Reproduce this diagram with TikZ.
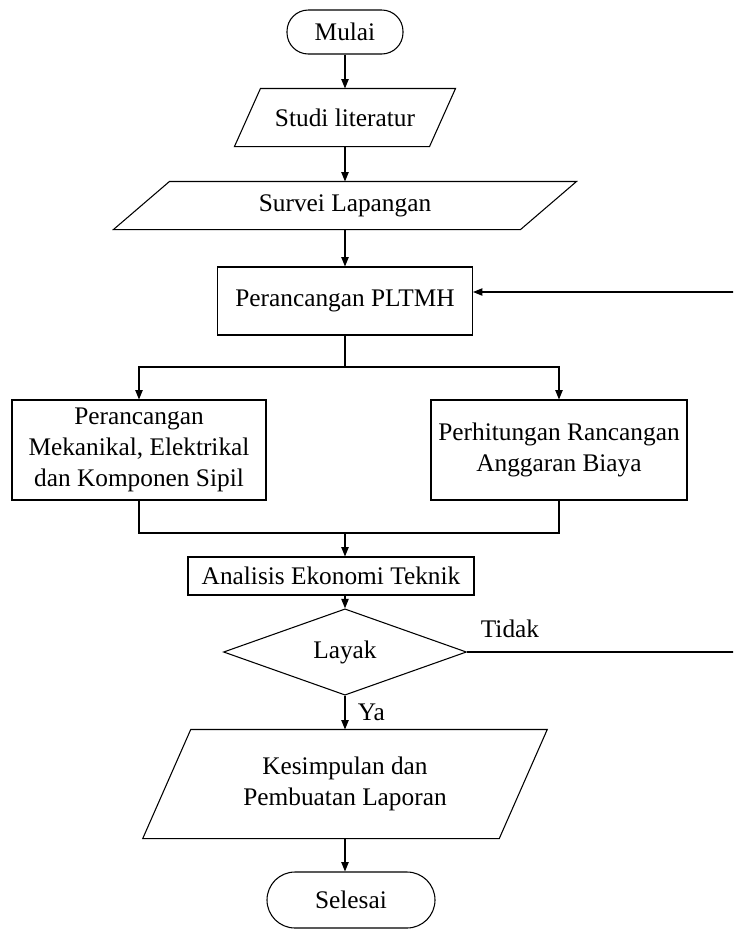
\documentclass[tikz,border=0pt]{standalone}
\usepackage{fontspec}
\setmainfont{Liberation Serif}
\usetikzlibrary{shapes.geometric,arrows.meta}
\newcommand{\ioshape}[2]{%
  \draw ([xshift=#2]#1.north west) -- ([xshift=#2]#1.north east)
    -- ([xshift=-#2]#1.south east) -- ([xshift=-#2]#1.south west) -- cycle;}

\begin{document}
\begin{tikzpicture}[x=0.75pt,y=-0.75pt,line width=0.8pt,
    font=\fontsize{19}{23.25}\selectfont,
    >={Triangle[length=7pt,width=5.5pt]},
    terminal/.style={draw, rounded corners=#1, inner sep=0pt},
    box/.style={draw, rectangle, inner sep=0pt, align=center},
    io/.style={inner sep=0pt, align=center},
    decision/.style={draw, diamond, inner sep=0pt}]
  \useasboundingbox (0,0) rectangle (733,929);
  \clip (0,0) rectangle (733,929);

  \node[terminal=16pt, minimum width=87pt, minimum height=33pt] (mulai) at (345,32) {Mulai};
  \node[io, minimum width=145.5pt, minimum height=42.75pt] (lit) at (345,117.5) {Studi literatur};
  \node[io, minimum width=304.5pt, minimum height=35.25pt] (survei) at (345,205.5) {Survei Lapangan};
  \node[box, minimum width=191.25pt, minimum height=51pt] (pltmh) at (345,301) {Perancangan PLTMH};
  \node[box, minimum width=190.5pt, minimum height=75pt] (mek) at (139,450)
    {Perancangan\\Mekanikal, Elektrikal\\dan Komponen Sipil};
  \node[box, minimum width=192pt, minimum height=75pt] (rab) at (559,450)
    {Perhitungan Rancangan\\Anggaran Biaya};
  \node[box, minimum width=214.5pt, minimum height=28.5pt] (eko) at (331,576) {Analisis Ekonomi Teknik};
  \node[decision, minimum width=182.25pt, minimum height=46.5pt] (layak) at (345,652) {Layak};
  \node[io, minimum width=266.6pt, minimum height=81pt] (kes) at (345,784)
    {Kesimpulan dan\\Pembuatan Laporan};
  \node[terminal=21pt, minimum width=126pt, minimum height=42pt] (selesai) at (351,900) {Selesai};
  \node (tidak) at (510,629) {Tidak};

  \ioshape{lit}{9.75pt}
  \ioshape{survei}{21pt}
  \ioshape{kes}{18pt}

  \coordinate (split) at (345,367);
  \coordinate (join) at (345,533);
  \coordinate (back) at (760,652);

  \draw[->] (mulai) -- (lit);
  \draw[->] (lit) -- (survei);
  \draw[->] (survei) -- (pltmh);
  \draw (pltmh) -- (split);
  \draw[->] (split) -| (mek);
  \draw[->] (split) -| (rab);
  \draw (mek) |- (join);
  \draw (rab) |- (join);
  \draw[->] (join) -- (join |- eko.north);
  \draw[->] (eko.south -| layak.north) -- (layak);
  \draw[->] (layak) -- node[right=6pt] (ya) {Ya} (kes);
  \draw[->] (kes.south) -- (kes.south |- selesai.north);
  \draw[->] (layak) -- (back) |- ([yshift=6.75pt]pltmh.east);
\end{tikzpicture}
\end{document}
